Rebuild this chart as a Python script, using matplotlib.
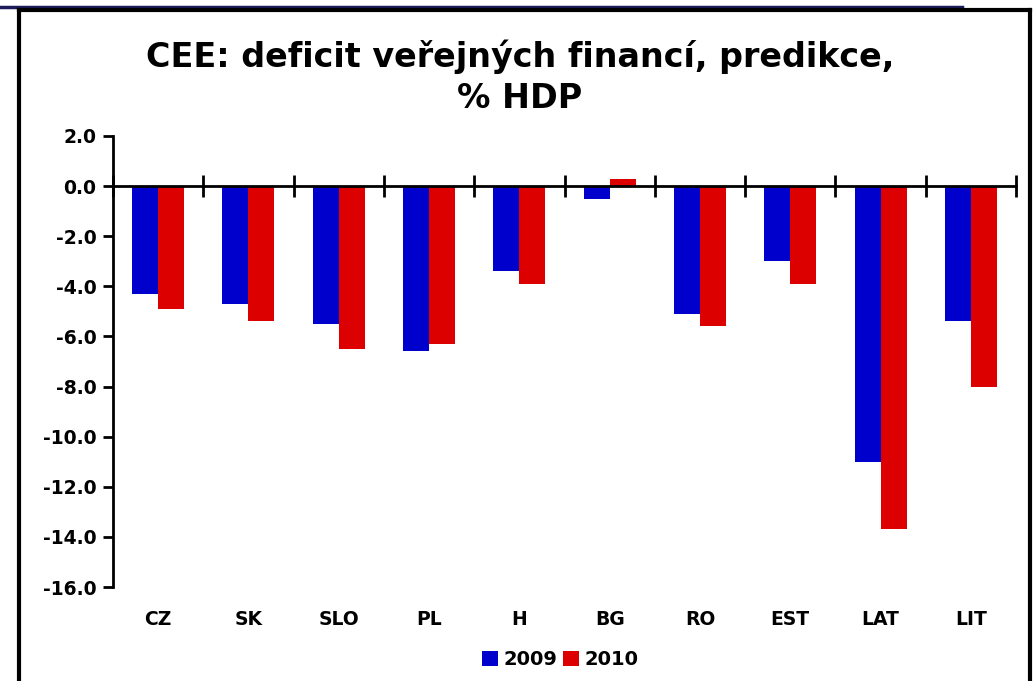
# CEE: deficit veřejných financí, predikce

import matplotlib.pyplot as plt
import numpy as np
from matplotlib.lines import Line2D

countries = ["CZ", "SK", "SLO", "PL", "H", "BG", "RO", "EST", "LAT", "LIT"]
deficit_2009 = [-4.3, -4.7, -5.5, -6.6, -3.4, -0.5, -5.1, -3.0, -11.0, -5.4]
deficit_2010 = [-4.9, -5.4, -6.5, -6.3, -3.9, 0.3, -5.6, -3.9, -13.7, -8.0]
y_ticks = np.arange(-16, 2.1, 2)

blue = "#0000CC"
red = "#DD0000"

plt.rcParams['font.family'] = ['DejaVu Sans']
plt.rcParams['font.weight'] = 'bold'

fig = plt.figure(figsize=(10.36, 6.81), dpi=100)
ax = fig.add_axes([0.1091, 0.138, 0.8716, 0.6623])

# rámeček slidu
fig.add_artist(Line2D([0, 0.929], [0.990, 0.990], color="#1c1c5a", lw=2.5))
fig.add_artist(Line2D([0.0185, 0.994], [0.9855, 0.9855], color="black", lw=3))
fig.add_artist(Line2D([0.0185, 0.0185], [0, 0.9855], color="black", lw=3))
fig.add_artist(Line2D([0.994, 0.994], [0, 0.9855], color="black", lw=3))

x = np.arange(len(countries))
w = 0.288
ax.bar(x - w / 2, deficit_2009, w, color=blue, label="2009")
ax.bar(x + w / 2, deficit_2010, w, color=red, label="2010")

ax.set_xlim(-0.5, len(countries) - 0.5)
ax.set_ylim(-16, 2)
ax.set_yticks(y_ticks)
ax.set_yticklabels([f"{v:.1f}" for v in y_ticks], fontsize=13.5, fontweight='bold')
ax.tick_params(axis='y', direction='out', length=7, width=2, pad=5)

ax.spines['top'].set_visible(False)
ax.spines['right'].set_visible(False)
ax.spines['left'].set_linewidth(2)
ax.spines['bottom'].set_position(('data', 0))
ax.spines['bottom'].set_linewidth(2)
ax.set_xticks(np.arange(-0.5, len(countries), 1))
ax.set_xticklabels([])
ax.tick_params(axis='x', direction='inout', length=16, width=2)

for i, c in enumerate(countries):
    ax.text(i, -0.073, c, transform=ax.get_xaxis_transform(),
            ha='center', va='center', fontsize=13.5, fontweight='bold')

fig.text(0.502, 0.886, "CEE: deficit veřejných financí, predikce,\n% HDP",
         ha='center', va='center', fontsize=24, fontweight='bold', linespacing=1.3)

fig.legend(loc='center', bbox_to_anchor=(0.541, 0.031), ncol=2, frameon=False,
           handlelength=0.8, handleheight=0.8, handletextpad=0.3, columnspacing=0.3,
           prop={'size': 14, 'weight': 'bold'})

fig.savefig("out.png", dpi=100)
